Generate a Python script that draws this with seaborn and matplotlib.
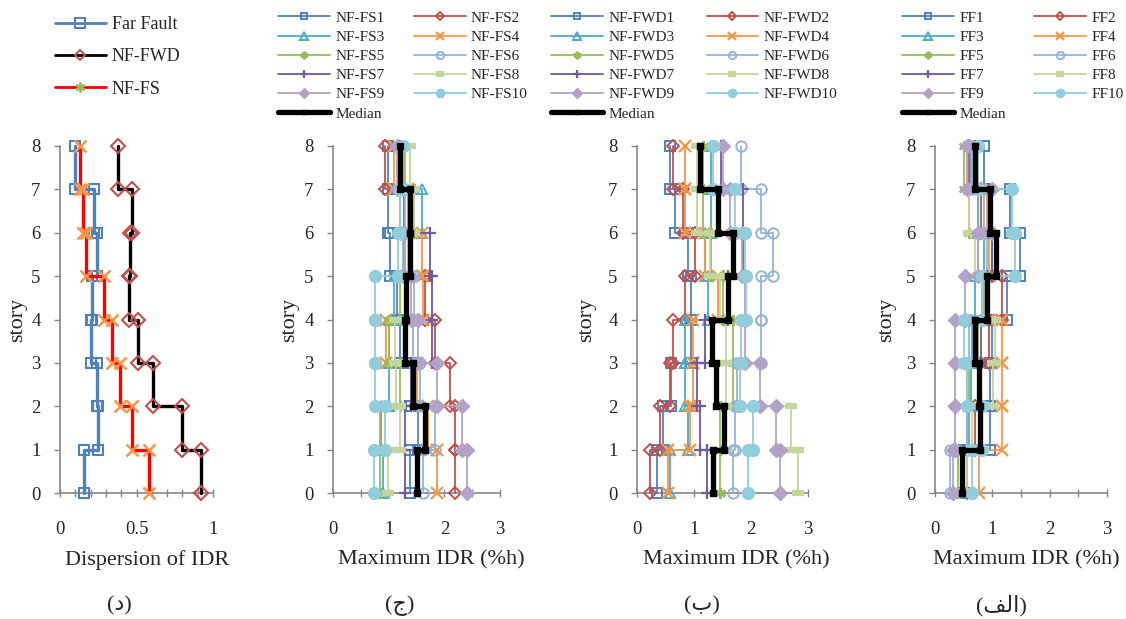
import numpy as np
import matplotlib
matplotlib.use("Agg")
import matplotlib.pyplot as plt
import seaborn as sns
from matplotlib.lines import Line2D
from matplotlib.ticker import MultipleLocator, FuncFormatter

# ------------------------------------------------------------------ data
# values are per story (story 1 .. story 8), drawn as a staircase over floor levels 0..8
disp_far_fault = [0.16, 0.25, 0.24, 0.20, 0.21, 0.24, 0.22, 0.10]
disp_nf_fwd = [0.92, 0.80, 0.61, 0.51, 0.45, 0.46, 0.47, 0.38]
disp_nf_fs = [0.58, 0.47, 0.39, 0.34, 0.29, 0.17, 0.15, 0.13]
disp_labels = ["Far Fault", "NF-FWD", "NF-FS"]

nf_fs_labels = ["NF-FS1", "NF-FS2", "NF-FS3", "NF-FS4", "NF-FS5",
                "NF-FS6", "NF-FS7", "NF-FS8", "NF-FS9", "NF-FS10"]
nf_fs_idr = [
    [1.38, 1.53, 1.41, 1.20, 1.15, 1.02, 0.99, 0.99],
    [2.19, 2.20, 2.10, 1.83, 1.65, 1.27, 1.27, 0.93],
    [0.90, 0.87, 1.00, 1.00, 1.10, 1.30, 1.59, 1.20],
    [1.86, 1.71, 1.50, 0.96, 1.62, 1.59, 1.35, 1.10],
    [0.84, 0.84, 1.20, 1.00, 1.20, 1.40, 1.45, 1.30],
    [1.62, 1.83, 1.56, 1.44, 1.45, 1.30, 1.30, 1.26],
    [1.30, 1.30, 1.40, 1.77, 1.77, 1.74, 1.20, 1.20],
    [0.99, 1.20, 1.14, 1.11, 1.30, 1.35, 1.45, 1.38],
    [2.40, 2.31, 1.86, 1.53, 1.41, 1.25, 1.20, 1.15],
    [0.73, 0.93, 0.75, 0.75, 0.75, 1.17, 1.20, 1.25],
]
nf_fs_median = [1.50, 1.65, 1.44, 1.29, 1.31, 1.38, 1.38, 1.20]

nf_fwd_labels = ["NF-FWD1", "NF-FWD2", "NF-FWD3", "NF-FWD4", "NF-FWD5",
                 "NF-FWD6", "NF-FWD7", "NF-FWD8", "NF-FWD9", "NF-FWD10"]
nf_fwd_idr = [
    [0.35, 0.45, 0.60, 0.95, 0.95, 0.90, 0.67, 0.58],
    [0.23, 0.40, 0.58, 0.63, 0.84, 1.02, 0.81, 0.63],
    [0.58, 0.90, 0.85, 0.85, 1.25, 1.20, 1.30, 1.30],
    [0.55, 0.93, 0.98, 0.98, 1.42, 1.19, 0.84, 0.84],
    [1.45, 1.45, 1.69, 1.69, 1.50, 1.30, 1.16, 1.16],
    [1.69, 1.72, 1.75, 2.18, 2.18, 2.38, 2.18, 1.83],
    [1.22, 1.10, 1.05, 1.20, 1.60, 1.86, 1.86, 1.48],
    [2.82, 2.70, 1.57, 1.57, 1.45, 1.28, 1.05, 1.05],
    [2.50, 2.44, 2.15, 1.90, 1.90, 1.85, 1.63, 1.50],
    [1.95, 2.03, 1.80, 1.83, 1.92, 1.89, 1.72, 1.34],
]
nf_fwd_median = [1.34, 1.53, 1.38, 1.31, 1.60, 1.69, 1.42, 1.10]

ff_labels = ["FF1", "FF2", "FF3", "FF4", "FF5", "FF6", "FF7", "FF8", "FF9", "FF10"]
ff_idr = [
    [0.50, 0.96, 0.96, 1.00, 1.25, 1.49, 1.30, 0.85],
    [0.55, 0.70, 0.80, 0.95, 1.16, 1.00, 0.80, 0.60],
    [0.45, 0.60, 0.62, 0.65, 0.70, 0.85, 0.75, 0.62],
    [0.76, 1.16, 1.16, 1.16, 0.95, 0.95, 0.90, 0.70],
    [0.40, 0.55, 0.60, 0.75, 0.85, 0.75, 0.60, 0.50],
    [0.26, 0.55, 0.55, 0.60, 0.82, 0.90, 0.85, 0.65],
    [0.50, 0.80, 0.80, 0.80, 0.90, 1.00, 0.95, 0.70],
    [0.55, 0.65, 1.02, 1.05, 0.95, 0.70, 0.60, 0.55],
    [0.32, 0.35, 0.35, 0.35, 0.52, 0.75, 1.00, 0.55],
    [0.64, 0.82, 0.55, 0.50, 0.82, 1.40, 1.34, 0.75],
]
ff_median = [0.47, 0.79, 0.76, 0.70, 0.90, 1.07, 0.96, 0.70]

median_label = "Median"
x_label_disp = "Dispersion of IDR"
x_label_idr = "Maximum IDR (%h)"
y_label = "story"
# panel captions (Arabic letters; الف given in visual presentation forms)
cap_d = "(\u062F)"
cap_j = "(\u062C)"
cap_b = "(\u0628)"
cap_alef = "(\uFED2\uFEDF\uFE8D)"

# ------------------------------------------------------------------ style
sns.set_style("white")
plt.rcParams['font.family'] = ['Liberation Serif', 'DejaVu Sans']
plt.rcParams['axes.unicode_minus'] = False

W, H = 1126, 619
fig = plt.figure(figsize=(W / 100, H / 100), dpi=100, facecolor="white")

GRAY = "#868686"
series_styles = [
    dict(color="#4F81BD", marker="s", ms=7, mfc="none", mew=1.4),
    dict(color="#C0504D", marker="D", ms=6, mfc="none", mew=1.4),
    dict(color="#4BACC6", marker="^", ms=7.5, mfc="none", mew=1.4),
    dict(color="#F79646", marker="x", ms=8, mfc="none", mew=1.6),
    dict(color="#9BBB59", marker=(6, 2, 0), ms=8, mfc="none", mew=1.6),
    dict(color="#95B3D7", marker="o", ms=7.5, mfc="none", mew=1.4),
    dict(color="#705B9C", marker="+", ms=9, mfc="none", mew=1.6),
    dict(color="#C3D69B", marker="_", ms=9, mfc="none", mew=4.5),
    dict(color="#B3A2C7", marker="D", ms=7, mfc="fill", mew=1.0),
    dict(color="#92CDDC", marker="o", ms=8.5, mfc="fill", mew=1.0),
]


def staircase(vals):
    v = np.asarray(vals, dtype=float)
    xs = np.repeat(v, 2)
    ys = np.repeat(np.arange(len(v) + 1), 2)[1:-1]
    return xs, ys


def draw(ax, vals, color, lw, marker, ms, mfc, mec, mew, z):
    xs, ys = staircase(vals)
    n0 = len(ax.lines)
    sns.lineplot(x=xs, y=ys, ax=ax, sort=False, estimator=None, color=color,
                 linewidth=lw, marker=marker, markersize=ms,
                 markerfacecolor=mfc, markeredgecolor=mec,
                 markeredgewidth=mew, clip_on=False, zorder=z, legend=False)
    return ax.lines[n0]


def make_ax(x0, x1):
    y_top, y_bot = 146, 493
    ax = fig.add_axes([x0 / W, (H - y_bot) / H, (x1 - x0) / W, (y_bot - y_top) / H])
    ax.set_facecolor("none")
    for s in ("top", "right"):
        ax.spines[s].set_visible(False)
    for s in ("left", "bottom"):
        ax.spines[s].set_color(GRAY)
        ax.spines[s].set_linewidth(1.2)
    ax.set_ylim(0, 8)
    ax.yaxis.set_major_locator(MultipleLocator(1))
    ax.tick_params(axis="y", which="both", direction="out", length=4, width=1,
                   color=GRAY, labelsize=13.5, pad=10, left=True)
    ax.tick_params(axis="x", which="both", direction="inout", length=6, width=1,
                   color=GRAY, labelsize=13.5, pad=17, bottom=True)
    return ax


def set_labels(ax, x0, x1, xlab, xlab_cx, ylab_cx, cap, cap_cx):
    wpx = x1 - x0
    ax.set_xlabel(xlab, fontsize=16, va="center")
    ax.xaxis.set_label_coords((xlab_cx - x0) / wpx, (493 - 560) / 347)
    ax.set_ylabel(y_label, fontsize=16, va="center")
    ax.yaxis.set_label_coords((ylab_cx - x0) / wpx, 0.5)
    fig.text(cap_cx / W, 1 - 606 / H, cap, ha="center", va="center", fontsize=16)


# ------------------------------------------------------------------ panel (د)
axd = make_ax(60, 213)
axd.set_xlim(0, 1)
axd.xaxis.set_major_locator(MultipleLocator(0.5))
axd.xaxis.set_minor_locator(MultipleLocator(0.1))
axd.xaxis.set_major_formatter(FuncFormatter(lambda v, p: f"{v:g}"))
draw(axd, disp_far_fault, "#4F81BD", 2.4, "s", 7.5, "none", "#4F81BD", 1.5, 3)
draw(axd, disp_nf_fwd, "black", 2.4, "D", 7, "none", "#C0504D", 1.5, 3)
draw(axd, disp_nf_fs, "#FF0000", 2.4, "x", 9, "none", "#F79646", 1.8, 3)
set_labels(axd, 60, 213, x_label_disp, 147, 18, cap_d, 119)

hd = [
    Line2D([], [], color="#4F81BD", lw=2, marker="s", ms=6.5, mfc="none", mec="#4F81BD", mew=1.4),
    Line2D([], [], color="black", lw=2, marker="D", ms=5.5, mfc="none", mec="#C0504D", mew=1.4),
    Line2D([], [], color="#FF0000", lw=2, marker=(6, 2, 0), ms=7, mfc="none", mec="#9BBB59", mew=1.6),
]
fig.legend(hd, disp_labels, loc="upper left", bbox_to_anchor=(55 / W, 1 - 16 / H),
           frameon=False, fontsize=13, handlelength=2.8, handletextpad=0.35,
           labelspacing=0.85, borderpad=0, borderaxespad=0)


# ------------------------------------------------------------------ IDR panels
def idr_panel(x0, x1, data, labels, med, leg_x, colsp, xlab_cx, ylab_cx, cap, cap_cx):
    ax = make_ax(x0, x1)
    ax.set_xlim(0, 3)
    ax.xaxis.set_major_locator(MultipleLocator(1))
    ax.xaxis.set_minor_locator(MultipleLocator(0.5))
    handles = []
    for i, vals in enumerate(data):
        st = series_styles[i]
        mfc = st["color"] if st["mfc"] == "fill" else "none"
        handles.append(draw(ax, vals, st["color"], 1.3, st["marker"], st["ms"],
                            mfc, st["color"], st["mew"], 3))
    hmed = draw(ax, med, "black", 3.8, "s", 4, "black", "black", 1, 5)
    set_labels(ax, x0, x1, x_label_idr, xlab_cx, ylab_cx, cap, cap_cx)
    order = [0, 2, 4, 6, 8, None, 1, 3, 5, 7, 9]
    hs, ls = [], []
    for o in order:
        if o is None:
            hs.append(hmed)
            ls.append(median_label)
        else:
            hs.append(handles[o])
            ls.append(labels[o])
    fig.legend(hs, ls, loc="upper left", bbox_to_anchor=(leg_x / W, 1 - 11 / H),
               ncol=2, frameon=False, fontsize=11, handlelength=3.4,
               handletextpad=0.35, columnspacing=colsp, labelspacing=0.36,
               borderpad=0, borderaxespad=0, markerscale=0.7)
    return ax


idr_panel(333, 500, nf_fs_idr, nf_fs_labels, nf_fs_median, 278, 1.9, 431, 290, cap_j, 400)
idr_panel(637, 808, nf_fwd_idr, nf_fwd_labels, nf_fwd_median, 551, 2.1, 736, 587, cap_b, 702)
idr_panel(935, 1107, ff_idr, ff_labels, ff_median, 902, 1.85, 1026, 887, cap_alef, 1001)

fig.savefig("out.png", dpi=100, facecolor="white")
